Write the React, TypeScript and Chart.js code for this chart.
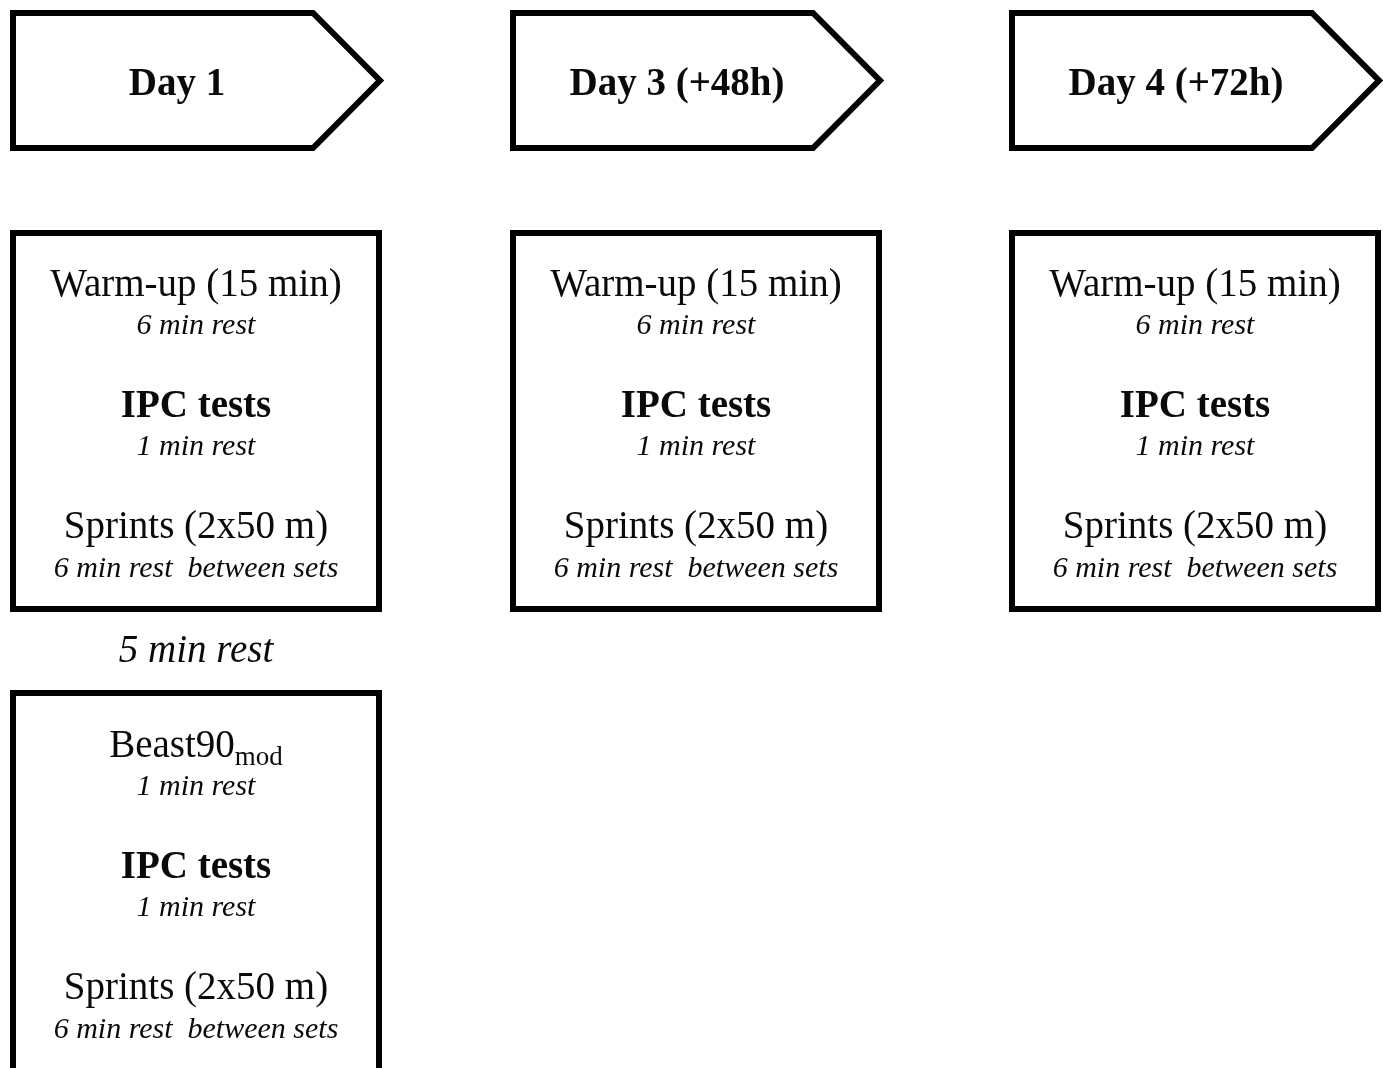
import React, { useEffect, useRef } from "react";
import { Chart, registerables } from "chart.js";

Chart.register(...registerables);

// ---- content ----
const dayTitles = ["Day 1", "Day 3 (+48h)", "Day 4 (+72h)"];
const sessionSteps = ["Warm-up (15 min)", "IPC tests", "Sprints (2x50 m)"];
const sessionRests = ["6 min rest", "1 min rest", "6 min rest  between sets"];
const sessionStepBold = [false, true, false];
const extraSteps = ["Beast90", "IPC tests", "Sprints (2x50 m)"];
const extraStepSubscripts = ["mod", "", ""];
const extraRests = ["1 min rest", "1 min rest", "6 min rest  between sets"];
const betweenRest = "5 min rest";

// ---- layout (diagram coordinates, px of the 1383x1068 page) ----
const W = 1383;
const H = 1068;
const columnLeft = [13, 513, 1012];
const arrowBody = 300;
const arrowTip = 367;
const arrowTop = 13;
const arrowBottom = 148;
const boxWidth = 366;
const boxTop = 233;
const boxBottom = 609;
const box2Top = 693;
const box2Bottom = 1090;
const stepBaselines = [296, 417, 538];
const restBaselines = [334, 455, 577];
const box2Offset = 461;
const betweenBaseline = 662;

const SERIF = '"Liberation Serif", "Times New Roman", serif';
const INK = "#0a0a0a";

function arrowPoints(L: number) {
  const mid = (arrowTop + arrowBottom) / 2;
  return [
    { x: L + 150, y: arrowTop },
    { x: L + arrowBody, y: arrowTop },
    { x: L + arrowTip, y: mid },
    { x: L + arrowBody, y: arrowBottom },
    { x: L, y: arrowBottom },
    { x: L, y: arrowTop },
    { x: L + 150, y: arrowTop },
  ];
}

function boxPoints(L: number, top: number, bottom: number) {
  return [
    { x: L + boxWidth / 2, y: top },
    { x: L + boxWidth, y: top },
    { x: L + boxWidth, y: bottom },
    { x: L, y: bottom },
    { x: L, y: top },
    { x: L + boxWidth / 2, y: top },
  ];
}

const textPlugin = {
  id: "diagramText",
  afterDatasetsDraw(chart: any) {
    const ctx = chart.ctx;
    const xs = chart.scales.x;
    const ys = chart.scales.y;
    const px = (v: number) => xs.getPixelForValue(v);
    const py = (v: number) => ys.getPixelForValue(v);
    ctx.save();
    ctx.fillStyle = INK;
    ctx.textAlign = "center";
    ctx.textBaseline = "alphabetic";

    columnLeft.forEach((L, i) => {
      ctx.font = `bold 39px ${SERIF}`;
      ctx.fillText(dayTitles[i], px(L + 164), py(95));

      const cx = px(L + boxWidth / 2);
      sessionSteps.forEach((s, j) => {
        ctx.font = `${sessionStepBold[j] ? "bold " : ""}39px ${SERIF}`;
        ctx.fillText(s, cx, py(stepBaselines[j]));
        ctx.font = `italic 30px ${SERIF}`;
        ctx.fillText(sessionRests[j], cx, py(restBaselines[j]));
      });
    });

    // Day 1 second part
    const L0 = columnLeft[0];
    const cx0 = px(L0 + boxWidth / 2);
    ctx.font = `italic 39px ${SERIF}`;
    ctx.fillText(betweenRest, cx0, py(betweenBaseline));

    extraSteps.forEach((s, j) => {
      const base = py(stepBaselines[j] + box2Offset);
      const sub = extraStepSubscripts[j];
      ctx.font = `${sessionStepBold[j] ? "bold " : ""}39px ${SERIF}`;
      if (sub) {
        const mainW = ctx.measureText(s).width;
        ctx.font = `27px ${SERIF}`;
        const subW = ctx.measureText(sub).width;
        const start = cx0 - (mainW + subW) / 2;
        ctx.textAlign = "left";
        ctx.font = `39px ${SERIF}`;
        ctx.fillText(s, start, base);
        ctx.font = `27px ${SERIF}`;
        ctx.fillText(sub, start + mainW, base + 8);
        ctx.textAlign = "center";
      } else {
        ctx.fillText(s, cx0, base);
      }
      ctx.font = `italic 30px ${SERIF}`;
      ctx.fillText(extraRests[j], cx0, py(restBaselines[j] + box2Offset));
    });
    ctx.restore();
  },
};

export default function App() {
  const ref = useRef<HTMLCanvasElement | null>(null);

  useEffect(() => {
    document.body.style.margin = "0";
    document.body.style.background = "#ffffff";
    const canvas = ref.current;
    if (!canvas) return;

    const shapeStyle = {
      type: "line" as const,
      borderColor: "#000000",
      borderWidth: 6,
      borderJoinStyle: "miter" as const,
      pointRadius: 0,
      fill: false,
      tension: 0,
      clip: false as any,
    };

    const datasets: any[] = [];
    columnLeft.forEach((L, i) => {
      datasets.push({ ...shapeStyle, label: `arrow ${dayTitles[i]}`, data: arrowPoints(L) });
      datasets.push({ ...shapeStyle, label: `box ${dayTitles[i]}`, data: boxPoints(columnLeft[i], boxTop, boxBottom) });
    });
    datasets.push({
      ...shapeStyle,
      label: "box 2 Day 1",
      data: [
        { x: columnLeft[0], y: box2Bottom },
        { x: columnLeft[0], y: box2Top },
        { x: columnLeft[0] + boxWidth, y: box2Top },
        { x: columnLeft[0] + boxWidth, y: box2Bottom },
      ],
    });

    const chart = new Chart(canvas, {
      type: "scatter",
      data: { datasets },
      options: {
        animation: false,
        responsive: false,
        devicePixelRatio: 1,
        layout: { padding: 0 },
        showLine: true,
        scales: {
          x: { type: "linear", min: 0, max: W, display: false },
          y: { type: "linear", min: 0, max: H, reverse: true, display: false },
        },
        plugins: {
          legend: { display: false },
          tooltip: { enabled: false },
        },
      },
      plugins: [textPlugin],
    });
    return () => chart.destroy();
  }, []);

  return (
    <div style={{ position: "absolute", left: 0, top: 0, width: W, height: H, background: "#fff" }}>
      <canvas ref={ref} width={W} height={H} style={{ display: "block", width: W, height: H }} />
    </div>
  );
}
